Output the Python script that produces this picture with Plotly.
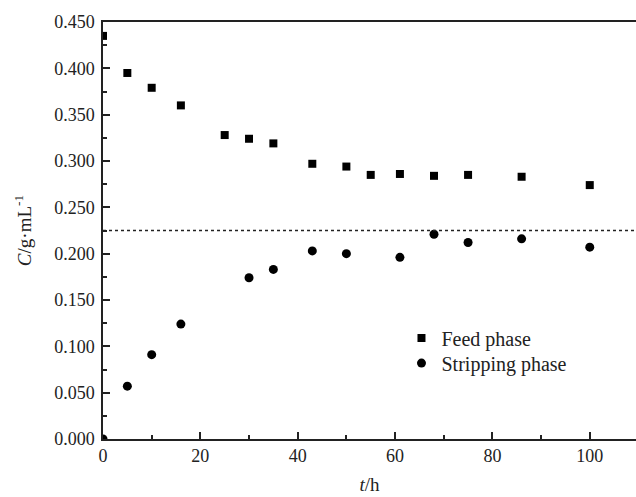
import plotly.graph_objects as go

# Data
t_feed = [0, 5, 10, 16, 25, 30, 35, 43, 50, 55, 61, 68, 75, 86, 100]
c_feed = [0.435, 0.395, 0.379, 0.360, 0.328, 0.324, 0.319, 0.297, 0.294,
          0.285, 0.286, 0.284, 0.285, 0.283, 0.274]
t_strip = [0, 5, 10, 16, 30, 35, 43, 50, 61, 68, 75, 86, 100]
c_strip = [0.0, 0.057, 0.091, 0.124, 0.174, 0.183, 0.203, 0.200, 0.196,
           0.221, 0.212, 0.216, 0.207]
ref_level = 0.225

FONT = "Liberation Serif, Times New Roman, serif"
AX = "#222222"

fig = go.Figure()
fig.add_trace(go.Scatter(x=t_feed, y=c_feed, mode="markers", name="Feed phase",
                         legend="legend",
                         marker=dict(symbol="square", size=8, color="black")))
fig.add_trace(go.Scatter(x=t_strip, y=c_strip, mode="markers", name="Stripping phase",
                         legend="legend2",
                         marker=dict(symbol="circle", size=9, color="black")))

fig.add_shape(type="line", xref="paper", x0=0, x1=1, yref="y", y0=ref_level, y1=ref_level,
              line=dict(color="#222222", width=1.5, dash="dot"))

leg_common = dict(xanchor="left", yanchor="top", bgcolor="rgba(0,0,0,0)",
                  font=dict(size=20, family=FONT))

fig.update_layout(
    width=636, height=497,
    margin=dict(l=103, r=0, t=22, b=58),
    paper_bgcolor="white", plot_bgcolor="white",
    font=dict(family=FONT, size=18, color="#222222"),
    showlegend=True,
    legend=dict(x=0.56, y=0.2888, **leg_common),
    legend2=dict(x=0.56, y=0.2288, **leg_common),
    xaxis=dict(range=[0, 109.5], dtick=20, tick0=0, ticks="inside", ticklen=7, tickwidth=1.5,
               tickcolor=AX, showline=True, linecolor=AX, linewidth=1.5, mirror=True,
               showgrid=False, zeroline=False,
               minor=dict(dtick=10, ticks="inside", ticklen=4, tickwidth=1.5, tickcolor=AX),
               tickfont=dict(size=18, family=FONT),
               title=dict(text="<i>t</i>/h", font=dict(size=19, family=FONT), standoff=12)),
    yaxis=dict(range=[0, 0.45], dtick=0.05, tick0=0, tickformat=".3f", ticks="inside",
               ticklen=7, tickwidth=1.5, tickcolor=AX, showline=True, linecolor=AX,
               linewidth=1.5, mirror=False, showgrid=False, zeroline=False,
               ticklabelstandoff=3,
               minor=dict(dtick=0.025, ticks="inside", ticklen=4, tickwidth=1.5, tickcolor=AX),
               tickfont=dict(size=18, family=FONT),
               title=dict(text="<i>C</i>/g·mL<sup>-1</sup>", font=dict(size=19, family=FONT),
                          standoff=18)),
)

fig.write_html("out.html")
